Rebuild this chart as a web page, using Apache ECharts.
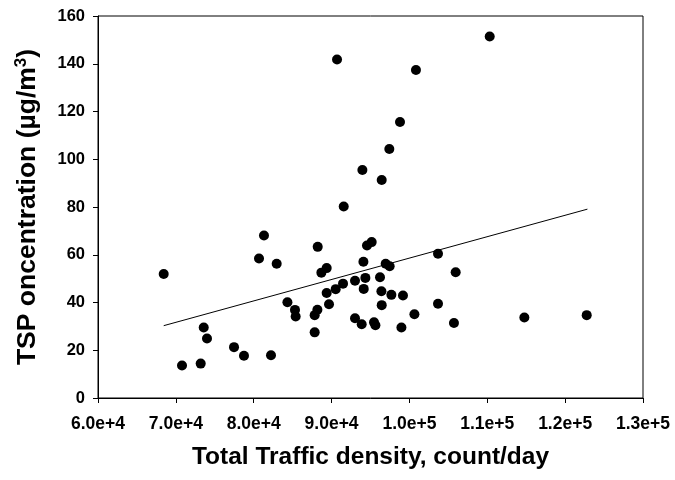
<!DOCTYPE html>
<html>
<head>
<meta charset="utf-8">
<script src="https://cdn.jsdelivr.net/npm/echarts@6/dist/echarts.min.js"></script>
<style>
  html, body { margin: 0; padding: 0; background: #fff; }
  #chart { width: 675px; height: 480px; }
</style>
</head>
<body>
<div id="chart"></div>
<script>
// Traffic density (count/day) at each sampling site
const trafficDensity = [
  68440, 70790, 73190, 73580, 74000, 77470, 78750, 80680, 81320, 82220,
  82950, 84330, 85300, 85390, 87830, 88180, 87830, 88220, 88690, 89370,
  89370, 89670, 90530, 91470, 91560, 93010, 93010, 93870, 94090, 94340,
  94130, 94550, 95150, 95450, 95630, 96220, 96400, 96440, 96950, 97460,
  97680, 99170, 98970, 100640, 103670, 103670, 105940, 105720, 114760, 122770,
  90700, 93960, 96440, 97420, 110310, 100840, 98790
];
// Measured TSP concentration (µg/m3) at the same sites
const tspConcentration = [
  51.9, 13.6, 14.4, 29.5, 24.9, 21.3, 17.7, 58.4, 68.1, 17.9,
  56.2, 40.1, 36.9, 34.1, 34.7, 37.0, 27.5, 63.3, 52.5, 54.4,
  44.0, 39.3, 45.6, 47.9, 80.2, 49.1, 33.4, 30.9, 57.1, 50.3,
  45.7, 63.9, 65.3, 31.7, 30.5, 50.6, 44.7, 38.9, 56.2, 55.2,
  43.2, 42.9, 29.5, 35.1, 60.4, 39.5, 52.7, 31.4, 33.7, 34.7,
  141.8, 95.5, 91.3, 104.3, 151.4, 137.4, 115.6
];
// End points of the fitted trend line
const trendX = [68440, 122860];
const trendY = [30.3, 79.1];

const xTicks = { min: 60000, max: 130000, step: 10000 };
const yTicks = { min: 0, max: 160, step: 20 };

function sciLabel(v) {
  if (v === 0) return '0';
  const e = Math.floor(Math.log10(v) + 1e-9);
  const m = v / Math.pow(10, e);
  return m.toFixed(1) + 'e+' + e;
}

const points = trafficDensity.map((x, i) => [x, tspConcentration[i]]);
const trend = trendX.map((x, i) => [x, trendY[i]]);

const font = 'Liberation Sans, Arial, sans-serif';
const chart = echarts.init(document.getElementById('chart'), null, { renderer: 'canvas' });
chart.setOption({
  animation: false,
  backgroundColor: '#ffffff',
  grid: {
    left: 98, right: 32, top: 16, bottom: 82,
    show: true, borderColor: '#000', borderWidth: 1, backgroundColor: 'transparent'
  },
  xAxis: {
    type: 'value',
    min: xTicks.min, max: xTicks.max, interval: xTicks.step,
    name: 'Total Traffic density, count/day',
    nameLocation: 'middle', nameGap: 47,
    nameTextStyle: { fontFamily: font, fontWeight: 'bold', fontSize: 24.5, color: '#000' },
    axisLine: { onZero: false, lineStyle: { color: '#000', width: 1 } },
    axisTick: { show: true, length: 5, inside: false, lineStyle: { color: '#000' } },
    axisLabel: { formatter: sciLabel, fontFamily: font, fontWeight: 'bold', fontSize: 17.5, color: '#000', margin: 17 },
    splitLine: { show: false }
  },
  yAxis: {
    type: 'value',
    min: yTicks.min, max: yTicks.max, interval: yTicks.step,
    name: '{t|TSP oncentration (µg/m}{s|3}{t|)}',
    nameLocation: 'middle', nameGap: 56, nameRotate: 90,
    nameTextStyle: {
      rich: {
        t: { fontFamily: font, fontWeight: 'bold', fontSize: 26.5, color: '#000' },
        s: { fontFamily: font, fontWeight: 'bold', fontSize: 17, color: '#000', verticalAlign: 'top', padding: [0, 0, 12, 0] }
      }
    },
    axisLine: { onZero: false, lineStyle: { color: '#000', width: 1 } },
    axisTick: { show: true, length: 5, inside: false, lineStyle: { color: '#000' } },
    axisLabel: { fontFamily: font, fontWeight: 'bold', fontSize: 16.5, color: '#000', margin: 13 },
    splitLine: { show: false }
  },
  series: [
    {
      type: 'line',
      data: trend,
      showSymbol: false,
      symbol: 'none',
      lineStyle: { color: '#000', width: 1 },
      z: 2
    },
    {
      type: 'scatter',
      data: points,
      symbol: 'circle',
      symbolSize: 10,
      itemStyle: { color: '#000', opacity: 1 },
      z: 3
    }
  ]
});
</script>
</body>
</html>
